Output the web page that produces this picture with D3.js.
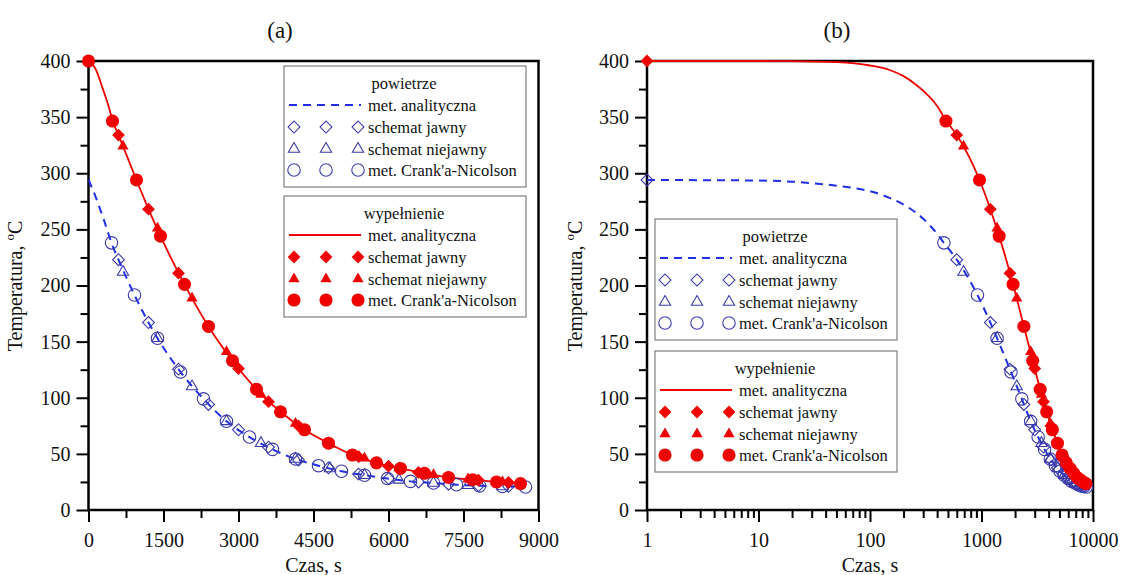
<!DOCTYPE html>
<html>
<head>
<meta charset="utf-8">
<script src="https://cdn.jsdelivr.net/npm/d3@7"></script>
<style>
  body { margin: 0; background: #fff; }
  svg { display: block; font-family: "Liberation Serif", "Times New Roman", serif; }
  text { font-family: "Liberation Serif", "Times New Roman", serif; fill: #111; }
</style>
</head>
<body>
<svg id="chart" width="1125" height="575"></svg>
<script>
// ---- data (time in s, temperature in degC) ----
// wypelnienie (red)
const fillLineTime = [0, 1, 10, 20, 50, 100, 150, 200, 250, 300, 400, 480, 600, 960, 1200, 1440, 1920, 2400, 2880, 3360, 3840, 4320, 4800, 5280, 5760, 6240, 6720, 7200, 7680, 8160, 8640, 8700];
const fillLineTemp = [400, 400, 400, 399.9, 399, 396, 392, 386.5, 380, 373.5, 360, 347, 334, 294, 268, 244, 201, 163.5, 133, 107.5, 87.5, 71.5, 59.5, 49, 42, 37, 32.7, 29, 27, 25, 23.5, 23.3];
const fillExplicitTime = [0, 600, 1200, 1800, 2400, 3000, 3600, 4200, 4800, 5400, 6000, 6600, 7200, 7800, 8400];
const fillExplicitTemp = [400, 334, 268, 211, 163.5, 126, 96.5, 75, 59.5, 47.5, 39, 33.5, 29, 26.5, 24.5];
const fillImplicitTime = [690, 1380, 2070, 2760, 3450, 4140, 4830, 5520, 6210, 6900, 7590, 8280];
const fillImplicitTemp = [324, 251, 188.6, 141, 103, 77, 58.5, 46, 37.5, 31.5, 27.5, 25];
const fillCNTime = [0, 480, 960, 1440, 1920, 2400, 2880, 3360, 3840, 4320, 4800, 5280, 5760, 6240, 6720, 7200, 7680, 8160, 8640];
const fillCNTemp = [400, 346.5, 294, 244, 201, 163.5, 133, 107.5, 87.5, 71.5, 59.5, 49, 42, 37, 32.7, 29, 27, 25, 23.5];

// powietrze (blue)
const airLineTime = [0, 1, 10, 20, 40, 70, 100, 150, 200, 300, 400, 460, 600, 920, 1200, 1380, 1840, 2300, 2760, 3220, 3680, 4140, 4600, 5060, 5520, 5980, 6440, 6900, 7360, 7820, 8280, 8740];
const airLineTemp = [294, 294, 293.5, 292.5, 290, 287, 284, 278, 272, 259.5, 246, 238, 223, 191.5, 167, 153, 123, 99, 79, 65, 54, 45.5, 39.5, 34.5, 31, 28, 25.5, 24, 22.5, 21.5, 21, 20.5];
const airExplicitTime = [0, 600, 1200, 1800, 2400, 3000, 3600, 4200, 4800, 5400, 6000, 6600, 7200, 7800, 8400];
const airExplicitTemp = [294, 223, 167, 125.5, 94, 71.5, 56, 44.5, 37.5, 32, 28, 25, 23, 21.7, 21];
const airImplicitTime = [690, 1380, 2070, 2760, 3450, 4140, 4830, 5520, 6210, 6900, 7590, 8280];
const airImplicitTemp = [212, 153, 110, 79, 59.5, 45.5, 37, 31, 26.8, 24, 22, 21];
const airCNTime = [460, 920, 1380, 1840, 2300, 2760, 3220, 3680, 4140, 4600, 5060, 5520, 5980, 6440, 6900, 7360, 7820, 8280, 8740];
const airCNTemp = [238, 191.5, 153, 123, 99, 79, 65, 54, 45.5, 39.5, 34.5, 31, 28, 25.5, 24, 22.5, 21.5, 21, 20.5];

// tick labels
const xTicksLin = [0, 1500, 3000, 4500, 6000, 7500, 9000];
const xTicksLog = [1, 10, 100, 1000, 10000];
const yTicks = [0, 50, 100, 150, 200, 250, 300, 350, 400];

// legend texts
const legendGroups = ["powietrze", "wypełnienie"];
const legendLabels = ["met. analityczna", "schemat jawny", "schemat niejawny", "met. Crank'a-Nicolson"];

const zip = (ts, vs) => ts.map((t, i) => ({ t: t, v: vs[i] }));

const RED = "#f00000";
const BLUE_LINE = "#1f2fe6";
const BLUE_MK = "#3a3aaa";

const svg = d3.select("#chart");
svg.append("rect").attr("width", 1125).attr("height", 575).attr("fill", "#fff");

const plotTop = 61, plotBottom = 510;
const y = d3.scaleLinear().domain([0, 400]).range([plotBottom, plotTop]);

const sym = {
  diamond: d3.symbol().type(d3.symbolSquare),
  triangle: d3.symbol().type(d3.symbolTriangle),
  circle: d3.symbol().type(d3.symbolCircle)
};

// marker style per series
const mk = {
  air: {
    diamond: s => s.attr("d", sym.diamond.size(70)()).attr("fill", "none").attr("stroke", BLUE_MK).attr("stroke-width", 1.1),
    triangle: s => s.attr("d", sym.triangle.size(55)()).attr("fill", "none").attr("stroke", BLUE_MK).attr("stroke-width", 1.1),
    circle: s => s.attr("d", sym.circle.size(122)()).attr("fill", "none").attr("stroke", BLUE_MK).attr("stroke-width", 1.1)
  },
  fill: {
    diamond: s => s.attr("d", sym.diamond.size(82)()).attr("fill", RED),
    triangle: s => s.attr("d", sym.triangle.size(55)()).attr("fill", RED),
    circle: s => s.attr("d", sym.circle.size(135)()).attr("fill", RED)
  }
};

const series = {
  air: {
    line: zip(airLineTime, airLineTemp),
    diamond: zip(airExplicitTime, airExplicitTemp),
    triangle: zip(airImplicitTime, airImplicitTemp),
    circle: zip(airCNTime, airCNTemp)
  },
  fill: {
    line: zip(fillLineTime, fillLineTemp),
    diamond: zip(fillExplicitTime, fillExplicitTemp),
    triangle: zip(fillImplicitTime, fillImplicitTemp),
    circle: zip(fillCNTime, fillCNTemp)
  }
};

const panels = [
  {
    name: "(a)", titleX: 280, labelX: 22, log: false,
    x: d3.scaleLinear().domain([0, 9000]).range([88.5, 538.5]),
    ticks: xTicksLin,
    legendX: 284, legendY: [66, 196]
  },
  {
    name: "(b)", titleX: 837, labelX: 582, log: true,
    x: d3.scaleLog().domain([1, 10000]).range([647, 1093]),
    ticks: xTicksLog,
    legendX: 655, legendY: [219, 351]
  }
];

function styleAxis(a, size) {
  a.attr("font-family", null).attr("font-size", null);
  a.selectAll(".tick line").attr("stroke", "#000").attr("stroke-width", 2);
  a.selectAll(".tick text").style("font-size", size + "px").attr("fill", "#111");
  a.select(".domain").remove();
}

panels.forEach(p => {
  const g = svg.append("g");
  const [x0, x1] = p.x.range();

  // minor ticks
  let minorX;
  if (p.log) {
    minorX = [];
    p.ticks.slice(0, -1).forEach(d => { for (let k = 2; k < 10; k++) minorX.push(d * k); });
  } else {
    minorX = p.ticks.slice(0, -1).map((d, i) => (d + p.ticks[i + 1]) / 2);
  }
  const minorY = yTicks.slice(0, -1).map((d, i) => (d + yTicks[i + 1]) / 2);

  g.append("g").attr("transform", `translate(0,${plotBottom})`)
    .call(d3.axisBottom(p.x).tickValues(minorX).tickSize(8).tickSizeOuter(0).tickFormat(""))
    .call(a => styleAxis(a, 20));
  g.append("g").attr("transform", `translate(0,${plotBottom})`)
    .call(d3.axisBottom(p.x).tickValues(p.ticks).tickSize(12).tickSizeOuter(0).tickPadding(11).tickFormat(d3.format("d")))
    .call(a => styleAxis(a, 20));
  g.append("g").attr("transform", `translate(${x0},0)`)
    .call(d3.axisLeft(y).tickValues(minorY).tickSize(8).tickSizeOuter(0).tickFormat(""))
    .call(a => styleAxis(a, 20));
  g.append("g").attr("transform", `translate(${x0},0)`)
    .call(d3.axisLeft(y).tickValues(yTicks).tickSize(12).tickSizeOuter(0).tickPadding(6))
    .call(a => styleAxis(a, 20));

  // frame
  g.append("rect")
    .attr("x", x0).attr("y", plotTop)
    .attr("width", x1 - x0).attr("height", plotBottom - plotTop)
    .attr("fill", "none").attr("stroke", "#000").attr("stroke-width", 2.5);

  // titles
  g.append("text").attr("x", p.titleX).attr("y", 38).attr("text-anchor", "middle")
    .style("font-size", "23px").text(p.name);
  g.append("text").attr("x", (x0 + x1) / 2).attr("y", 572).attr("text-anchor", "middle")
    .style("font-size", "20px").text("Czas, s");
  const yl = g.append("text")
    .attr("transform", `translate(${p.labelX},286) rotate(-90)`)
    .attr("text-anchor", "middle").style("font-size", "20px");
  yl.append("tspan").text("Temperatura, ");
  yl.append("tspan").attr("dy", -8).style("font-size", "13px").text("o");
  yl.append("tspan").attr("dy", 8).text("C");

  const tx = d => p.log ? p.x(Math.max(d.t, 1)) : p.x(d.t);
  const line = d3.line().x(tx).y(d => y(d.v)).curve(d3.curveMonotoneX);
  const lineData = s => p.log ? s.filter(d => d.t >= 1) : s;

  // analytic curves
  g.append("path").datum(lineData(series.air.line))
    .attr("fill", "none").attr("stroke", BLUE_LINE).attr("stroke-width", 2)
    .attr("stroke-dasharray", "8,6").attr("d", line);
  g.append("path").datum(lineData(series.fill.line))
    .attr("fill", "none").attr("stroke", RED).attr("stroke-width", 1.8).attr("d", line);

  // numerical schemes (starting point shown by CN in (a), by explicit in (b))
  ["air", "fill"].forEach(k => {
    ["diamond", "triangle", "circle"].forEach(shape => {
      let data = series[k][shape];
      if (p.log) data = data.filter(d => d.t > 0 || shape === "diamond");
      else data = data.filter(d => d.t > 0 || (k === "fill" && shape === "circle"));
      g.selectAll(null).data(data).enter().append("path")
        .attr("transform", d => `translate(${tx(d)},${y(d.v)})` + (shape === "diamond" ? " rotate(45)" : ""))
        .call(mk[k][shape]);
    });
  });

  // legends
  ["air", "fill"].forEach((k, gi) => {
    const lx = p.legendX, ly = p.legendY[gi];
    const lg = g.append("g");
    lg.append("rect").attr("x", lx).attr("y", ly).attr("width", 242).attr("height", 121)
      .attr("fill", "#fff").attr("stroke", "#808080").attr("stroke-width", 1.2);
    lg.append("text").attr("x", lx + 120).attr("y", ly + 23).attr("text-anchor", "middle")
      .style("font-size", "16.5px").text(legendGroups[gi]);
    const rows = [39, 61, 83, 104];
    rows.forEach((ry, ri) => {
      const cy = ly + ry;
      lg.append("text").attr("x", lx + 84).attr("y", cy + 6).style("font-size", "16.5px").text(legendLabels[ri]);
      if (ri === 0) {
        const ln = lg.append("line").attr("x1", lx + 5).attr("x2", lx + 77).attr("y1", cy).attr("y2", cy)
          .attr("stroke", k === "air" ? BLUE_LINE : RED).attr("stroke-width", k === "air" ? 2 : 1.8);
        if (k === "air") ln.attr("stroke-dasharray", "8,6");
      } else {
        const shape = ["diamond", "triangle", "circle"][ri - 1];
        [10, 42, 74].forEach(ox => {
          lg.append("path")
            .attr("transform", `translate(${lx + ox},${cy})` + (shape === "diamond" ? " rotate(45)" : ""))
            .call(mk[k][shape]);
        });
      }
    });
  });
});
</script>
</body>
</html>
